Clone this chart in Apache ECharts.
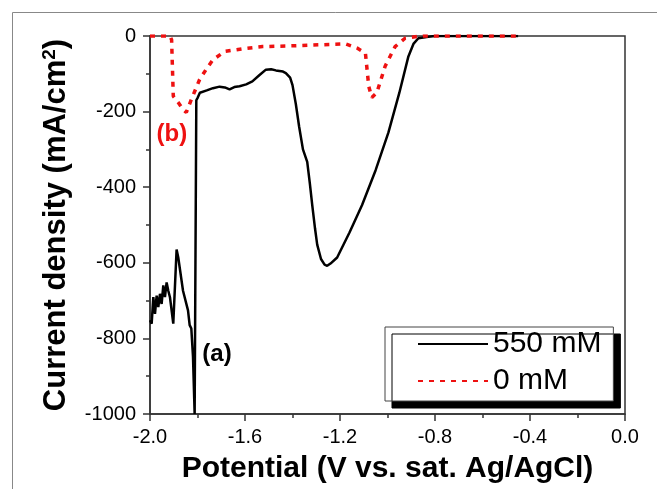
<!DOCTYPE html>
<html>
<head>
<meta charset="utf-8">
<script src="https://cdn.jsdelivr.net/npm/echarts@6/dist/echarts.min.js"></script>
<style>
  html, body { margin: 0; padding: 0; background: #fff; }
  #main { width: 657px; height: 489px; }
</style>
</head>
<body>
<div id="main"></div>
<script>
// 550 mM 曲线
var potential550 = [-2.000, -1.993, -1.986, -1.979, -1.972, -1.965, -1.958, -1.951, -1.944, -1.937,
    -1.930, -1.923, -1.916, -1.902, -1.895, -1.888, -1.881, -1.861, -1.840, -1.833,
    -1.826, -1.819, -1.812, -1.806, -1.805, -1.799, -1.790, -1.761, -1.735, -1.707,
    -1.685, -1.665, -1.645, -1.623, -1.595, -1.569, -1.540, -1.512, -1.490, -1.470,
    -1.440, -1.428, -1.410, -1.400, -1.386, -1.372, -1.356, -1.338, -1.327, -1.317,
    -1.305, -1.296, -1.280, -1.265, -1.254, -1.240, -1.212, -1.160, -1.107, -1.050,
    -0.996, -0.950, -0.912, -0.890, -0.870, -0.828, -0.800, -0.450];
var current550 = [-752, -761, -691, -735, -687, -717, -682, -709, -660, -691,
    -652, -674, -691, -761, -765, -565, -586, -674, -726, -765,
    -774, -848, -1000, -1000, -170, -163, -150, -144, -138, -134,
    -136, -141, -135, -133, -128, -120, -104, -89, -88, -91,
    -94, -98, -110, -130, -180, -240, -300, -333, -390, -447,
    -510, -552, -590, -605, -608, -602, -586, -520, -447, -355,
    -255, -150, -54, -20, -6, -2, 0, 0];

// 0 mM 曲线
var potential0 = [-2.000, -1.916, -1.909, -1.902, -1.881, -1.860, -1.847, -1.826, -1.791, -1.760,
    -1.735, -1.686, -1.600, -1.526, -1.400, -1.317, -1.177, -1.128, -1.093, -1.079,
    -1.066, -1.045, -1.010, -0.968, -0.926, -0.884, -0.850, -0.450];
var current0 = [0, 0, -10, -159, -176, -195, -202, -168, -115, -85,
    -63, -41, -33, -28, -26, -24, -21, -32, -45, -133,
    -163, -150, -80, -28, -6, -2, 0, 0];

var seriesNames = ['550 mM', '0 mM'];
var xTicks = [-2.0, -1.6, -1.2, -0.8, -0.4, 0.0];
var yTicks = [-1000, -800, -600, -400, -200, 0];

function zip(xs, ys) {
    var out = [];
    for (var i = 0; i < xs.length; i++) {
        out.push([xs[i], ys[i]]);
    }
    return out;
}

var font = 'Liberation Sans, Arial, sans-serif';
var red = '#ee1111';

var myChart = echarts.init(document.getElementById('main'));

var option = {
    animation: false,
    backgroundColor: '#fff',
    textStyle: { fontFamily: font },
    graphic: [
        {
            type: 'rect',
            shape: { x: 12.5, y: 12.5, width: 700, height: 600 },
            style: { fill: 'none', stroke: '#888', lineWidth: 1 },
            silent: true
        }
    ],
    grid: {
        left: 150, right: 32, top: 36, bottom: 70,
        show: true,
        borderColor: '#333',
        borderWidth: 1.5
    },
    legend: {
        data: seriesNames,
        orient: 'vertical',
        left: 385,
        top: 327,
        align: 'left',
        padding: [2, 12, 5, 32],
        itemGap: 7,
        itemWidth: 70,
        itemHeight: 2,
        itemStyle: { opacity: 0 },
        backgroundColor: '#fff',
        borderColor: '#444',
        borderWidth: 1,
        shadowColor: '#000',
        shadowBlur: 0,
        shadowOffsetX: 7,
        shadowOffsetY: 7,
        textStyle: { fontSize: 30, color: '#000', fontFamily: font }
    },
    xAxis: {
        type: 'value',
        min: xTicks[0],
        max: xTicks[xTicks.length - 1],
        interval: 0.4,
        name: 'Potential (V vs. sat. Ag/AgCl)',
        nameLocation: 'middle',
        nameGap: 40,
        nameTextStyle: { fontSize: 30, fontWeight: 'bold', color: '#000', fontFamily: font },
        axisLine: { onZero: false, lineStyle: { color: '#333', width: 1.5 } },
        axisTick: { inside: false, length: 7, lineStyle: { color: '#333', width: 1.5 } },
        minorTick: { show: true, splitNumber: 2, length: 4, lineStyle: { color: '#333', width: 1.5 } },
        axisLabel: {
            margin: 13,
            fontSize: 20,
            color: '#000',
            formatter: function (v) { return v.toFixed(1); }
        },
        splitLine: { show: false }
    },
    yAxis: {
        type: 'value',
        min: yTicks[0],
        max: yTicks[yTicks.length - 1],
        interval: 200,
        name: 'Current density (mA/cm{sup|2})',
        nameLocation: 'middle',
        nameGap: 68,
        nameTextStyle: {
            fontSize: 31, fontWeight: 'bold', color: '#000', fontFamily: font, lineHeight: 34,
            rich: {
                sup: { fontSize: 19, fontWeight: 'bold', color: '#000', fontFamily: font, verticalAlign: 'top', lineHeight: 22 }
            }
        },
        axisLine: { onZero: false, lineStyle: { color: '#333', width: 1.5 } },
        axisTick: { inside: false, length: 7, lineStyle: { color: '#333', width: 1.5 } },
        minorTick: { show: true, splitNumber: 2, length: 4, lineStyle: { color: '#333', width: 1.5 } },
        axisLabel: {
            margin: 14,
            fontSize: 20,
            color: '#000',
            formatter: function (v) { return String(v); }
        },
        splitLine: { show: false }
    },
    series: [
        {
            name: seriesNames[0],
            type: 'line',
            data: zip(potential550, current550),
            symbol: 'none',
            smooth: false,
            z: 3,
            lineStyle: { color: '#000', width: 2.5 },
            itemStyle: { color: '#000' },
            markPoint: {
                symbol: 'rect',
                symbolSize: 1,
                itemStyle: { color: 'rgba(0,0,0,0)' },
                label: { show: true, position: 'inside', formatter: '(a)', fontSize: 24, fontWeight: 'bold', color: '#000' },
                data: [{ coord: [-1.718, -843] }]
            }
        },
        {
            name: seriesNames[1],
            type: 'line',
            data: zip(potential0, current0),
            symbol: 'none',
            z: 4,
            lineStyle: { color: red, width: 3.5, type: [5, 6] },
            itemStyle: { color: red },
            markPoint: {
                symbol: 'rect',
                symbolSize: 1,
                itemStyle: { color: 'rgba(0,0,0,0)' },
                label: { show: true, position: 'inside', formatter: '(b)', fontSize: 24, fontWeight: 'bold', color: red },
                data: [{ coord: [-1.908, -259] }]
            }
        }
    ]
};

myChart.setOption(option);
</script>
</body>
</html>
